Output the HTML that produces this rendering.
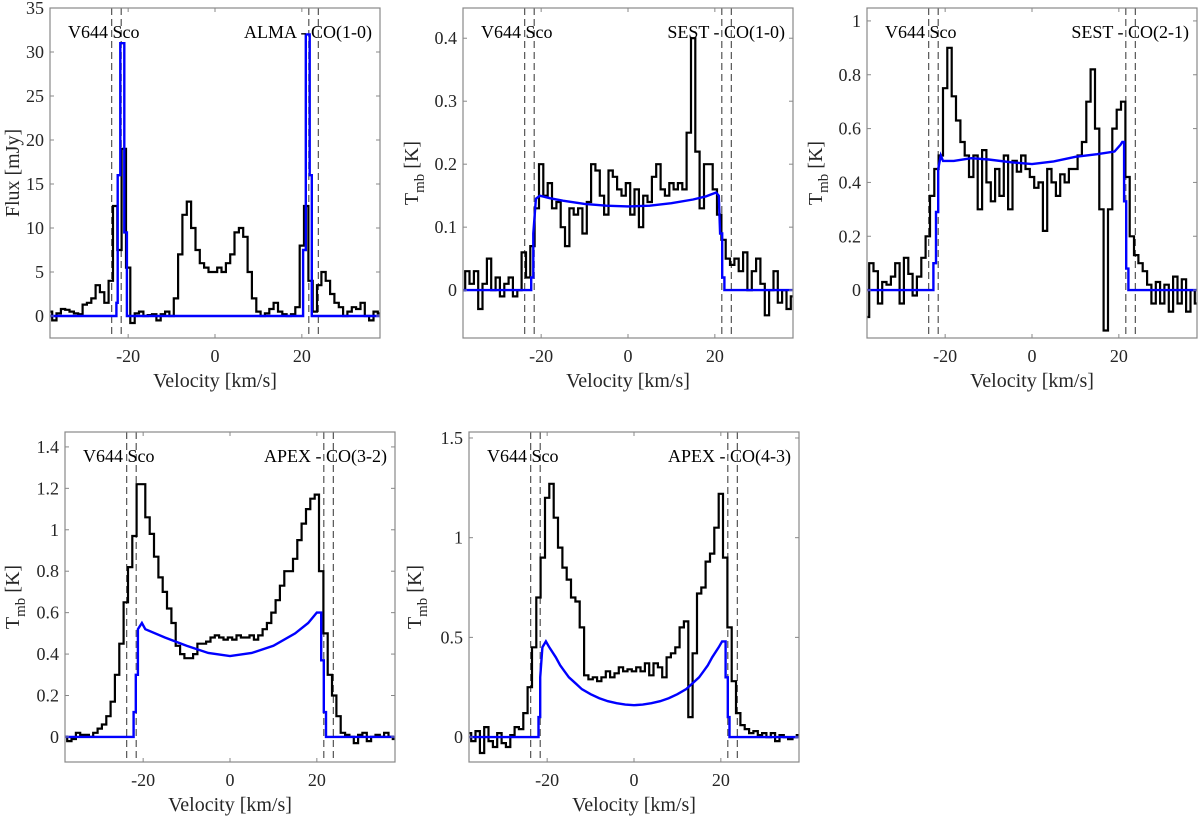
<!DOCTYPE html>
<html><head><meta charset="utf-8"><style>
html,body{margin:0;padding:0;background:#fff;}
svg{display:block;}
svg text{font-family:"Liberation Serif","DejaVu Serif",serif;}
</style></head><body>
<svg id="fig" width="1200" height="816" viewBox="0 0 1200 816"></svg>
<script>
const NS="http://www.w3.org/2000/svg";
const svg=document.getElementById('fig');

// velocity channels (km/s) for observed spectra
const velObs=[-38,-37,-36,-35,-34,-33,-32,-31,-30,-29,-28,-27,-26,-25,-24,-23,-22,-21,-20,-19,-18,-17,-16,-15,-14,-13,-12,-11,-10,-9,-8,-7,-6,-5,-4,-3,-2,-1,0,1,2,3,4,5,6,7,8,9,10,11,12,13,14,15,16,17,18,19,20,21,22,23,24,25,26,27,28,29,30,31,32,33,34,35,36,37,38];

// ALMA CO(1-0) observed flux (mJy)
const obsAlma=[0.5,-0.5,0.3,0.8,0.7,0.5,0.3,0.2,1.3,1.5,2,3.5,2.7,1.5,4,12.5,7.5,19,5.5,-0.8,0.3,0.5,0,0.1,0.2,-0.5,0.2,0.5,0,2,7,11.5,13,10,7.5,6,5.5,5,5,5.5,5,6,7,9.5,10,9,5,2,0.5,0,0.3,0.8,1.5,0.5,0.2,0,0.2,1,8,12.5,4,0.5,3.5,5,4,2.5,1.5,1,0,0.5,1,0.8,1.5,0,-0.5,0.5,0.3];
const modVelAlma=[-38,-22.7,-22.7,-22.4,-22.4,-21.8,-21.8,-20.9,-20.9,-20.3,-20.3,20.3,20.3,20.9,20.9,21.8,21.8,22.3,22.3,38];
const modAlma=[0,0,1.5,1.5,16,16,31,31,9.5,9.5,0,0,7.5,7.5,32,32,16,16,0,0];

// SEST CO(1-0) (K)
const obsSest10=[0,0.03,0.01,0.03,-0.03,0.01,0.05,0,0.02,-0.01,0.01,0.02,-0.01,0,0.06,0.02,0.07,0.13,0.2,0.15,0.17,0.13,0.14,0.1,0.07,0.13,0.12,0.13,0.09,0.14,0.2,0.19,0.15,0.12,0.19,0.18,0.16,0.15,0.17,0.12,0.16,0.1,0.15,0.14,0.18,0.2,0.16,0.15,0.17,0.16,0.17,0.16,0.25,0.4,0.22,0.13,0.2,0.2,0.16,0.12,0.08,0.05,0.04,0.05,0.03,0.06,0,0.03,0.05,0.01,-0.04,0,0.03,-0.02,0,-0.03,-0.01];
const modVelSest10=[-38,-22.3,-22.3,-21.8,-21.8,-21.2,-20.3,-18,-15,-10,-5,0,5,10,15,18,20.3,20.9,21.2,21.7,21.7,22.2,22.2,38];
const modSest10=[0,0,0.02,0.02,0.09,0.145,0.15,0.146,0.142,0.137,0.134,0.133,0.134,0.138,0.144,0.149,0.155,0.15,0.09,0.09,0.02,0.02,0,0];

// SEST CO(2-1) (K)
const obsSest21=[-0.1,0.1,0.07,-0.05,0.03,0.02,0.05,0.1,-0.05,0.12,0.06,-0.02,0.05,0.12,0.2,0.35,0.45,0.5,0.75,0.9,0.72,0.63,0.55,0.5,0.42,0.5,0.3,0.52,0.4,0.33,0.45,0.35,0.5,0.3,0.48,0.44,0.5,0.45,0.42,0.38,0.4,0.22,0.45,0.4,0.35,0.43,0.4,0.45,0.45,0.5,0.55,0.7,0.82,0.6,0.3,-0.15,0.3,0.6,0.67,0.7,0.42,0.2,0.13,0.1,0.07,0.02,-0.05,0.03,-0.05,0.02,-0.08,0.05,-0.05,0.04,-0.08,0,-0.05];
const modVelSest21=[-38,-22.7,-22.7,-22.1,-22.1,-21.6,-21.6,-21,-20.5,-18,-14,-10,-5,0,5,10,15,19,20.4,20.8,21.2,21.2,21.7,21.7,22.2,22.2,38];
const modSest21=[0,0,0.1,0.1,0.29,0.29,0.45,0.5,0.48,0.48,0.49,0.485,0.475,0.468,0.478,0.495,0.505,0.515,0.54,0.55,0.55,0.33,0.33,0.08,0.08,0,0];

// APEX CO(3-2) (K)
const obsApex32=[0,-0.02,-0.01,0.02,0.01,0.01,0,0.02,0.04,0.06,0.1,0.17,0.3,0.45,0.65,0.82,0.97,1.22,1.22,1.06,0.98,0.87,0.77,0.7,0.62,0.55,0.44,0.4,0.38,0.38,0.4,0.45,0.45,0.46,0.48,0.49,0.48,0.47,0.48,0.47,0.49,0.48,0.48,0.49,0.47,0.49,0.52,0.55,0.6,0.66,0.73,0.8,0.8,0.86,0.95,1.03,1.1,1.15,1.17,0.8,0.5,0.3,0.2,0.1,0.02,0.01,0,-0.03,0.01,0.02,-0.02,0,0.01,0,0.02,0,-0.01];
const modVelApex32=[-38,-22.2,-22.2,-21.7,-21.7,-21.2,-21.2,-20.3,-19.5,-15,-10,-5,0,5,10,15,18,20,20.6,21,21,21.6,21.6,22.1,22.1,38];
const modApex32=[0,0,0.12,0.12,0.3,0.3,0.52,0.55,0.52,0.48,0.44,0.405,0.39,0.405,0.44,0.5,0.55,0.6,0.6,0.6,0.37,0.37,0.12,0.12,0,0];

// APEX CO(4-3) (K)
const obsApex43=[0.02,-0.02,0.03,-0.08,0.05,-0.02,-0.05,0.02,-0.03,-0.05,0.01,0.05,0.04,0.12,0.25,0.45,0.7,0.9,1.2,1.27,1.1,0.95,0.85,0.79,0.7,0.68,0.55,0.31,0.29,0.3,0.28,0.3,0.33,0.3,0.32,0.35,0.33,0.34,0.33,0.35,0.33,0.37,0.31,0.37,0.35,0.3,0.4,0.42,0.45,0.55,0.58,0.1,0.42,0.72,0.75,0.88,0.92,1.05,1.22,0.9,0.55,0.28,0.12,0.06,0.04,0.02,0.03,0.01,0.02,0,0.02,-0.02,0.01,0,-0.01,0,0.01];
const modVelApex43=[-38,-22,-22,-21.6,-21.6,-21.1,-20.3,-19.5,-18,-17,-16,-15,-13.5,-12,-10,-8,-6,-4,-2,0,2,4,6,8,10,12,13.5,15,16,17,18,19.5,20.3,20.8,21.1,21.1,21.6,21.6,22,22,38];
const modApex43=[0,0,0.1,0.1,0.3,0.45,0.48,0.45,0.4,0.36,0.33,0.3,0.27,0.24,0.215,0.195,0.18,0.17,0.163,0.16,0.163,0.17,0.18,0.195,0.215,0.24,0.27,0.3,0.33,0.36,0.4,0.45,0.48,0.48,0.48,0.3,0.3,0.1,0.1,0,0];

const dashVel=[-23.8,-21.6,21.6,23.8];
const xTicks=[-20,0,20];

const panels=[
 {id:'alma-co10',x0:50,y0:8,ymin:-2.5,ymax:35,yt:[0,5,10,15,20,25,30,35],yfmt:v=>String(v),title:'ALMA - CO(1-0)',ylab:'flux',obs:obsAlma,mv:modVelAlma,mf:modAlma,ylx:38},
 {id:'sest-co10',x0:463,y0:8,ymin:-0.076,ymax:0.448,yt:[0,0.1,0.2,0.3,0.4],yfmt:v=>v===0?'0':v.toFixed(1),title:'SEST - CO(1-0)',ylab:'tmb',obs:obsSest10,mv:modVelSest10,mf:modSest10,ylx:52},
 {id:'sest-co21',x0:867,y0:8,ymin:-0.178,ymax:1.048,yt:[0,0.2,0.4,0.6,0.8,1],yfmt:v=>(v===0||v===1)?String(v):v.toFixed(1),title:'SEST - CO(2-1)',ylab:'tmb',obs:obsSest21,mv:modVelSest21,mf:modSest21,ylx:52},
 {id:'apex-co32',x0:65,y0:432,ymin:-0.121,ymax:1.472,yt:[0,0.2,0.4,0.6,0.8,1,1.2,1.4],yfmt:v=>(v===0||v===1)?String(v):v.toFixed(1),title:'APEX - CO(3-2)',ylab:'tmb',obs:obsApex32,mv:modVelApex32,mf:modApex32,ylx:53},
 {id:'apex-co43',x0:469,y0:432,ymin:-0.125,ymax:1.53,yt:[0,0.5,1,1.5],yfmt:v=>(v===0||v===1)?String(v):v.toFixed(1),title:'APEX - CO(4-3)',ylab:'tmb',obs:obsApex43,mv:modVelApex43,mf:modApex43,ylx:55}
];
const W=330,H=330,XMIN=-38,XMAX=38;
const FONT='"Liberation Serif","DejaVu Serif",serif';

function mk(tag,attrs,parent){const e=document.createElementNS(NS,tag);for(const k in attrs)e.setAttribute(k,attrs[k]);if(tag==='text')e.setAttribute('font-family',FONT);(parent||svg).appendChild(e);return e;}

panels.forEach(p=>{
  const g=mk('g',{});
  
  
  const xs=v=>p.x0+(v-XMIN)/(XMAX-XMIN)*W;
  const ys=v=>p.y0+H-(v-p.ymin)/(p.ymax-p.ymin)*H;
  const clipId='clip-'+p.id;
  const cp=mk('clipPath',{id:clipId},g);mk('rect',{x:p.x0,y:p.y0,width:W,height:H},cp);
  dashVel.forEach(v=>{
    const l=mk('line',{x1:xs(v),x2:xs(v),y1:p.y0,y2:p.y0+H,stroke:'#555','stroke-width':1.2,'stroke-dasharray':'7,4'},g);
    
    
  });
  let d='';
  p.obs.forEach((val,i)=>{
    const a=xs(velObs[i]-0.5),b=xs(velObs[i]+0.5),y=ys(val);
    d+=(i===0?'M':'L')+a.toFixed(1)+','+y.toFixed(1)+'L'+b.toFixed(1)+','+y.toFixed(1);
  });
  const po=mk('path',{d:d,fill:'none',stroke:'#000','stroke-width':2.2,'clip-path':'url(#'+clipId+')'},g);
  
  
  let dm='';
  p.mv.forEach((v,i)=>{dm+=(i===0?'M':'L')+xs(v).toFixed(1)+','+ys(p.mf[i]).toFixed(1);});
  const pm=mk('path',{d:dm,fill:'none',stroke:'#0000ff','stroke-width':2.4,'clip-path':'url(#'+clipId+')'},g);
  
  
  const fr=mk('rect',{x:p.x0,y:p.y0,width:W,height:H,fill:'none',stroke:'#888','stroke-width':1.2},g);
  
  
  xTicks.forEach(v=>{
    const x=xs(v);
    mk('line',{x1:x,x2:x,y1:p.y0+H,y2:p.y0+H-4,stroke:'#888','stroke-width':1},g);
    mk('line',{x1:x,x2:x,y1:p.y0,y2:p.y0+4,stroke:'#888','stroke-width':1},g);
    const t=mk('text',{x:x,y:p.y0+H+24,'text-anchor':'middle','font-size':18,fill:'#262626'},g);
    t.textContent=String(v);
    
    
  });
  p.yt.forEach(v=>{
    const y=ys(v);
    mk('line',{x1:p.x0,x2:p.x0+4,y1:y,y2:y,stroke:'#888','stroke-width':1},g);
    mk('line',{x1:p.x0+W,x2:p.x0+W-4,y1:y,y2:y,stroke:'#888','stroke-width':1},g);
    const t=mk('text',{x:p.x0-6,y:y+6,'text-anchor':'end','font-size':18,fill:'#262626'},g);
    t.textContent=p.yfmt(v);
    
    
  });
  const xl=mk('text',{x:p.x0+W/2,y:p.y0+H+49,'text-anchor':'middle','font-size':20,fill:'#262626'},g);
  xl.textContent='Velocity [km/s]';
  
  
  const cy=p.y0+H/2, cx=p.x0-p.ylx;
  const yl=mk('text',{x:cx,y:cy+7,'text-anchor':'middle','font-size':20,fill:'#262626',transform:'rotate(-90 '+cx+' '+cy+')'},g);
  
  
  if(p.ylab==='flux'){yl.textContent='Flux [mJy]';}
  else{
    const s1=mk('tspan',{},yl);s1.textContent='T';
    const s2=mk('tspan',{dy:6,'font-size':15},yl);s2.textContent='mb';
    const s3=mk('tspan',{dy:-6},yl);s3.textContent=' [K]';
  }
  const a1=mk('text',{x:p.x0+18,y:p.y0+30,'font-size':18,fill:'#000'},g);
  a1.textContent='V644 Sco';
  
  
  const a2=mk('text',{x:p.x0+W-8,y:p.y0+30,'text-anchor':'end','font-size':18,fill:'#000'},g);
  a2.textContent=p.title;
  
  
});
</script>
</body></html>
